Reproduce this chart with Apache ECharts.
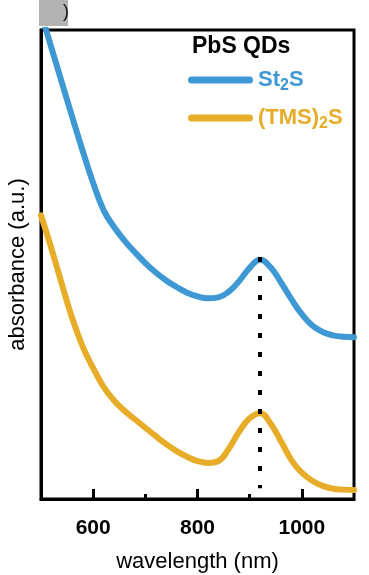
<!DOCTYPE html>
<html>
<head>
<meta charset="utf-8">
<script src="https://cdn.jsdelivr.net/npm/echarts@6/dist/echarts.min.js"></script>
<style>
html,body{margin:0;padding:0;background:#fff;}
#c{width:369px;height:575px;}
</style>
</head>
<body>
<div id="c"></div>
<script>
const wavelengths = [500,520,540,560,580,600,620,640,660,680,700,720,740,760,780,800,820,840,860,880,900,920,940,960,980,1000,1020,1040,1060,1080,1100];
const st2sAbs = [103.6,96.2,88.8,81.4,74.2,67.4,61.6,58.0,55.1,52.6,50.3,48.3,46.6,45.2,44.0,43.2,42.8,43.0,44.2,46.5,49.3,51.0,49.4,46.2,42.6,39.4,37.0,35.6,34.9,34.6,34.5];
const tmsAbs = [60.5,53.4,45.8,38.5,32.5,27.9,23.9,21.0,18.8,17.0,15.2,13.4,11.7,10.2,9.0,8.1,7.7,8.1,10.7,14.4,17.2,18.3,16.1,12.3,8.3,5.6,3.9,2.8,2.2,2.0,1.9];
const seriesNames = ['St2S','(TMS)2S'];
const majorTicks = [600,800,1000];
const minorTicks = [700,900];
const peakWavelength = 920;
const peakLineRange = [51.6, 2.3];

const FONT = 'Liberation Sans, Arial, Helvetica, sans-serif';
const BLUE = '#3d98d4';
const ORANGE = '#e7ac28';

const chart = echarts.init(document.getElementById('c'), null, {renderer:'canvas'});
const capsule = 'path://M3.5,0 L61.5,0 A3.5,3.5 0 0 1 61.5,7 L3.5,7 A3.5,3.5 0 0 1 3.5,0 Z';

function tickAxis(values, len){
  return {
    type:'value', min:500, max:1100, position:'bottom',
    axisLine:{show:false},
    axisTick:{show:true, inside:true, length:len, customValues:values, lineStyle:{color:'#000', width:3}},
    axisLabel:{show:false},
    splitLine:{show:false}
  };
}

chart.setOption({
  animation:false,
  backgroundColor:'#fff',
  title:{
    text:'PbS QDs', left:192, top:35, padding:0,
    textStyle:{fontFamily:FONT, fontSize:23, fontWeight:'bold', color:'#000'}
  },
  legend:{
    orient:'vertical', left:188, top:66, padding:0, itemGap:10,
    itemWidth:65, itemHeight:7, icon:capsule,
    data:seriesNames,
    formatter:function(n){
      if(n===seriesNames[0]) return '{b|St}{bs|2}{b|S}';
      return '{o|(TMS)}{os|2}{o|S}';
    },
    textStyle:{
      fontFamily:FONT, fontSize:22, fontWeight:'bold',
      rich:{
        b:{fontFamily:FONT,fontSize:22,fontWeight:'bold',color:BLUE,lineHeight:26},
        bs:{fontFamily:FONT,fontSize:16,fontWeight:'bold',color:BLUE,lineHeight:26,padding:[12,0,0,0]},
        o:{fontFamily:FONT,fontSize:22,fontWeight:'bold',color:ORANGE,lineHeight:26},
        os:{fontFamily:FONT,fontSize:16,fontWeight:'bold',color:ORANGE,lineHeight:26,padding:[12,0,0,0]}
      }
    }
  },
  grid:{left:41, right:15, top:30, bottom:76, show:true, borderColor:'#000', borderWidth:3, containLabel:false, outerBoundsMode:'none'},
  xAxis:[{
    type:'value', min:500, max:1100,
    name:'wavelength (nm)', nameLocation:'middle', nameGap:52,
    nameTextStyle:{fontFamily:FONT, fontSize:22, color:'#000'},
    axisLine:{show:true, lineStyle:{color:'#000', width:3}},
    axisTick:{show:false},
    axisLabel:{show:true, customValues:majorTicks, margin:19, fontFamily:FONT, fontSize:21, fontWeight:'bold', color:'#000',
      formatter:function(v){return String(v);}},
    splitLine:{show:false}
  }, tickAxis(minorTicks, 5), tickAxis(majorTicks, 10)],
  yAxis:{
    type:'value', min:0, max:100,
    name:'absorbance (a.u.)', nameLocation:'middle', nameGap:12,
    nameTextStyle:{fontFamily:FONT, fontSize:22, color:'#000'},
    axisLine:{show:true, lineStyle:{color:'#000', width:3}},
    axisTick:{show:false}, axisLabel:{show:false}, splitLine:{show:false}
  },
  graphic:[
    {type:'rect', left:39, top:0, shape:{width:29, height:26}, style:{fill:'#b3b3b3'}},
    {type:'text', left:63, top:3, style:{text:')', fontFamily:FONT, fontSize:18, fill:'#111'}}
  ],
  series:[
    {
      name:seriesNames[0], type:'line', xAxisIndex:0, smooth:0.45, showSymbol:false, clip:true,
      color:BLUE, lineStyle:{width:6, color:BLUE, cap:'round'},
      data:wavelengths.map((w,i)=>[w, st2sAbs[i]]),
      markLine:{
        silent:true, symbol:'none', animation:false,
        label:{show:false},
        lineStyle:{color:'#000', width:4, type:[5,14]},
        data:[[{coord:[peakWavelength, peakLineRange[0]]},{coord:[peakWavelength, peakLineRange[1]]}]]
      }
    },
    {
      name:seriesNames[1], type:'line', xAxisIndex:0, smooth:0.45, showSymbol:false, clip:true,
      color:ORANGE, lineStyle:{width:6, color:ORANGE, cap:'round'},
      data:wavelengths.map((w,i)=>[w, tmsAbs[i]])
    }
  ]
});
</script>
</body>
</html>
